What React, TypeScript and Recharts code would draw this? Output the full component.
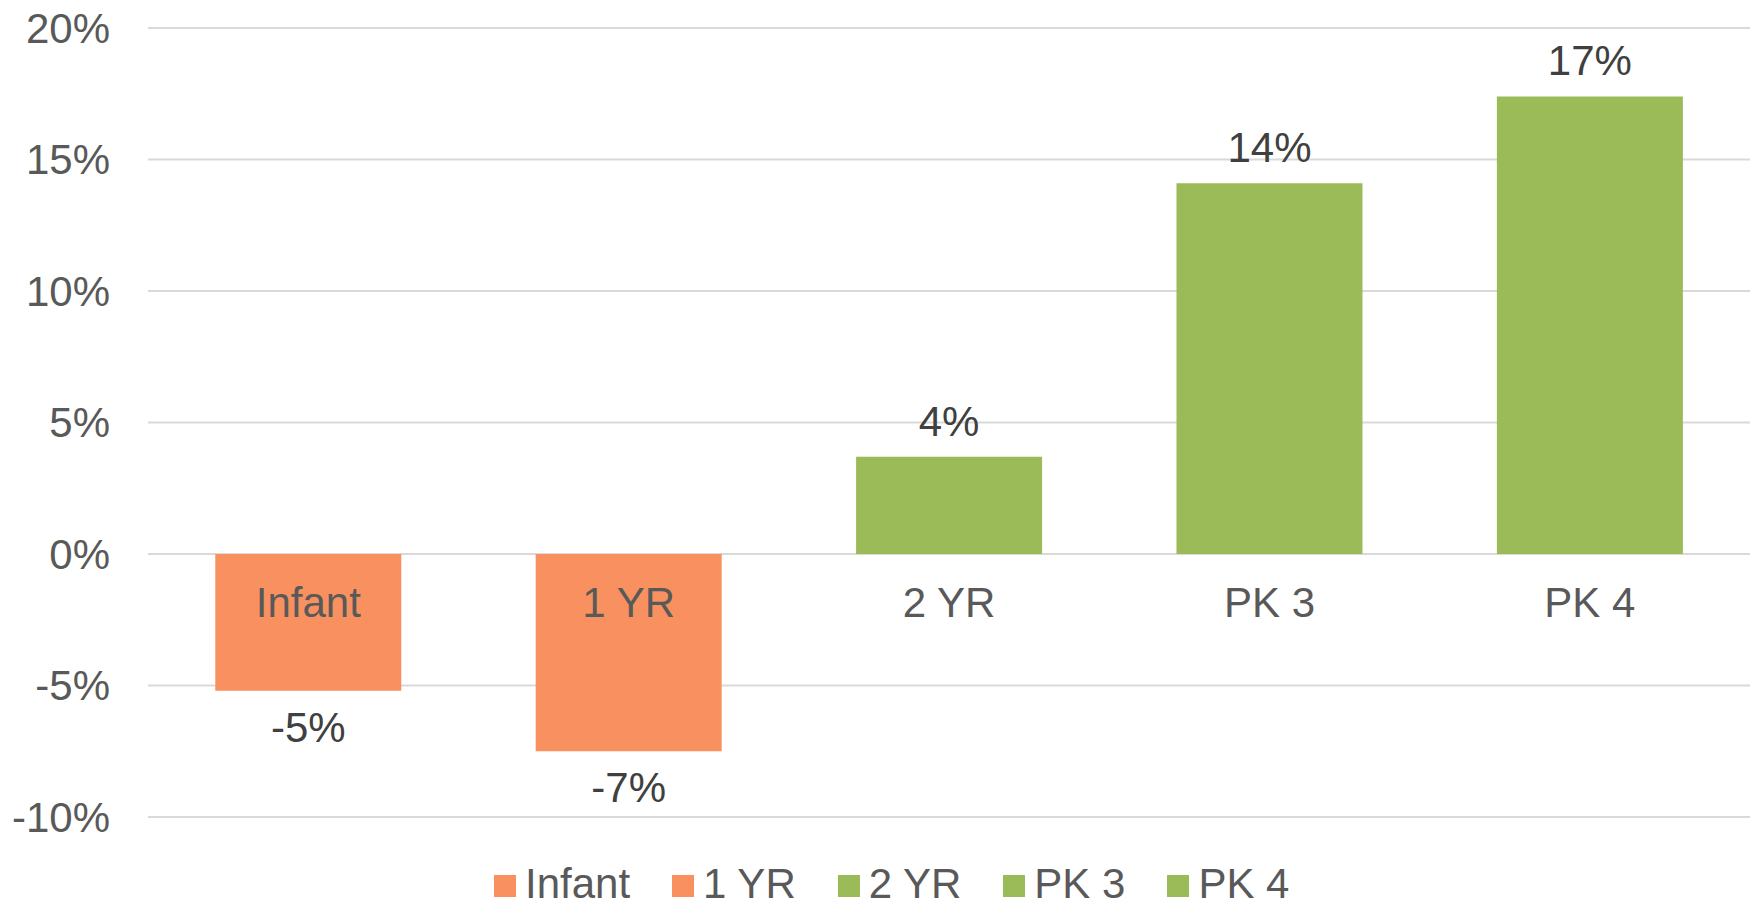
import React from 'react';
import {
  BarChart,
  Bar,
  Cell,
  XAxis,
  YAxis,
  CartesianGrid,
  Legend,
  LabelList,
} from 'recharts';

const categories = ['Infant', '1 YR', '2 YR', 'PK 3', 'PK 4'];
const changePct = [-5.2, -7.5, 3.7, 14.1, 17.4];
const yTicks = [-10, -5, 0, 5, 10, 15, 20];

const ORANGE = '#F8915F';
const GREEN = '#9BBB59';
const FONT = '"Liberation Sans", Arial, sans-serif';
const FS = 42;

const data = categories.map((name, i) => ({
  name,
  value: changePct[i],
  color: changePct[i] < 0 ? ORANGE : GREEN,
}));

// value label: above positive bars, below negative ones
function ValueLabel(props: any) {
  const { x, y, width, height, value } = props;
  const top = Math.min(y, y + height);
  const bottom = Math.max(y, y + height);
  const ty = value < 0 ? bottom + 51 : top - 21;
  return (
    <text x={x + width / 2} y={ty} textAnchor="middle" fill="#404040" fontSize={FS} fontFamily={FONT}>
      {`${Math.round(value)}%`}
    </text>
  );
}

// category name sits just under the zero line
function CategoryLabel(props: any) {
  const { x, y, width, height, value, index } = props;
  const v = changePct[index];
  const zero = v < 0 ? (height < 0 ? y + height : y) : y + height;
  return (
    <text x={x + width / 2} y={zero + 63} textAnchor="middle" fill="#595959" fontSize={FS} fontFamily={FONT}>
      {value}
    </text>
  );
}

function LegendBox() {
  return (
    <div
      style={{
        height: 89,
        boxSizing: 'border-box',
        paddingTop: 45,
        paddingLeft: 494,
        display: 'flex',
        alignItems: 'center',
        fontFamily: FONT,
        fontSize: FS,
        lineHeight: `${FS}px`,
        color: '#595959',
      }}
    >
      {data.map((d) => (
        <div key={d.name} style={{ display: 'flex', alignItems: 'center', marginRight: 42 }}>
          <span style={{ width: 22, height: 22, background: d.color, marginRight: 9, marginTop: 4 }} />
          <span style={{ whiteSpace: 'nowrap' }}>{d.name}</span>
        </div>
      ))}
    </div>
  );
}

export default function App() {
  return (
    <div style={{ width: 1750, height: 906, background: '#fff' }}>
      <style>{'body{margin:0}'}</style>
      <BarChart
        width={1750}
        height={906}
        data={data}
        margin={{ top: 28, right: 0, bottom: 0, left: 0 }}
        barCategoryGap="21%"
      >
        <CartesianGrid vertical={false} stroke="#D9D9D9" strokeWidth={2} />
        <XAxis dataKey="name" hide />
        <YAxis
          width={148}
          domain={[-10, 20]}
          ticks={yTicks}
          interval={0}
          axisLine={false}
          tickLine={false}
          tickSize={0}
          tickMargin={38}
          tickFormatter={(v) => `${v}%`}
          tick={{ fill: '#595959', fontSize: FS, fontFamily: FONT }}
        />
        <Legend verticalAlign="bottom" content={<LegendBox />} />
        <Bar dataKey="value" isAnimationActive={false}>
          {data.map((d) => (
            <Cell key={d.name} fill={d.color} />
          ))}
          <LabelList dataKey="value" content={<ValueLabel />} />
          <LabelList dataKey="name" content={<CategoryLabel />} />
        </Bar>
      </BarChart>
    </div>
  );
}
